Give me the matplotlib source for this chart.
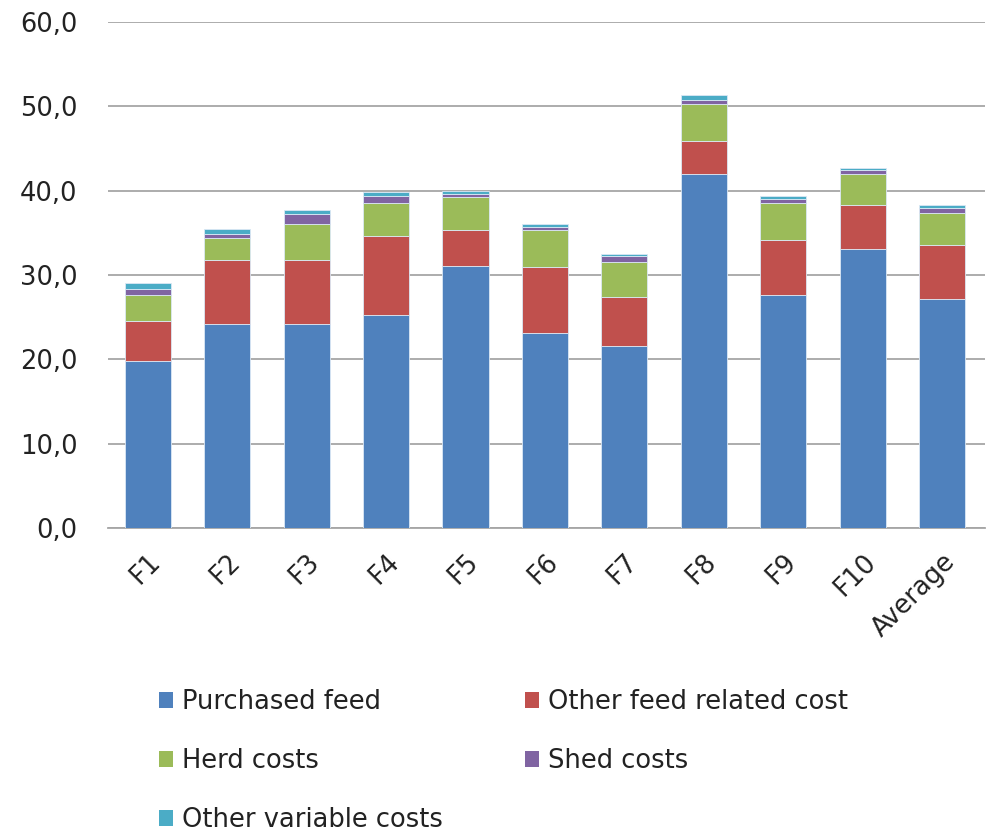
import matplotlib
matplotlib.use("Agg")
import matplotlib.pyplot as plt
import numpy as np
from matplotlib.patches import Patch
from matplotlib.ticker import FuncFormatter

categories = ["F1", "F2", "F3", "F4", "F5", "F6", "F7", "F8", "F9", "F10", "Average"]
purchased_feed = [19.8, 24.2, 24.2, 25.3, 31.1, 23.1, 21.6, 42.0, 27.6, 33.1, 27.2]
other_feed_related = [4.8, 7.6, 7.6, 9.3, 4.2, 7.8, 5.8, 3.9, 6.6, 5.2, 6.3]
herd_costs = [3.0, 2.6, 4.3, 3.9, 3.9, 4.4, 4.2, 4.4, 4.3, 3.7, 3.9]
shed_costs = [0.7, 0.5, 1.1, 0.9, 0.4, 0.4, 0.6, 0.5, 0.5, 0.5, 0.5]
other_variable = [0.8, 0.6, 0.5, 0.5, 0.4, 0.4, 0.3, 0.6, 0.4, 0.2, 0.4]

series_names = ["Purchased feed", "Other feed related cost", "Herd costs",
                "Shed costs", "Other variable costs"]
series = [purchased_feed, other_feed_related, herd_costs, shed_costs, other_variable]
colors = ["#4F81BD", "#C0504D", "#9BBB59", "#8064A2", "#4BACC6"]

plt.rcParams['font.family'] = ['DejaVu Sans']
FS = 18.5

fig = plt.figure(figsize=(9.88, 8.32), dpi=100)
ax = fig.add_axes([108/988, 1 - 528/832, (985 - 108)/988, (528 - 22)/832])

x = np.arange(len(categories))
bottom = np.zeros(len(categories))
handles = []
for name, vals, col in zip(series_names, series, colors):
    vals = np.array(vals)
    ax.bar(x, vals, bottom=bottom, width=0.58, color=col,
           edgecolor="#dbe8f5", linewidth=0.6, zorder=3)
    bottom += vals
    handles.append(Patch(facecolor=col, edgecolor='none', label=name))

ax.set_xlim(-0.5, len(categories) - 0.5 + 0.04)
ax.set_ylim(0, 60)
ax.set_yticks(np.arange(0, 61, 10))
ax.yaxis.set_major_formatter(FuncFormatter(lambda v, p: f"{v:.1f}".replace('.', ',')))
ax.grid(axis='y', color='#a6a6a6', linewidth=1.3, zorder=0)
for s in ['top', 'right', 'left']:
    ax.spines[s].set_visible(False)
ax.spines['bottom'].set_color('#a6a6a6')
ax.spines['bottom'].set_linewidth(1.3)
ax.tick_params(axis='y', length=0, pad=22, labelsize=FS, labelcolor='#222222')
ax.tick_params(axis='x', length=0, pad=15, labelsize=FS, labelcolor='#222222')
ax.set_xticks(x)
ax.set_xticklabels(categories, rotation=45, ha='right', rotation_mode='anchor')

order = [0, 2, 4, 1, 3]
fig.legend([handles[i] for i in order], [series_names[i] for i in order],
           ncol=2, loc='upper left', bbox_to_anchor=(136/988, 1 - 666/832),
           frameon=False, fontsize=FS, handlelength=0.55, handleheight=0.55,
           handletextpad=0.35, columnspacing=3.17, labelspacing=1.28,
           labelcolor='#222222')

fig.savefig("out.png", dpi=100)
